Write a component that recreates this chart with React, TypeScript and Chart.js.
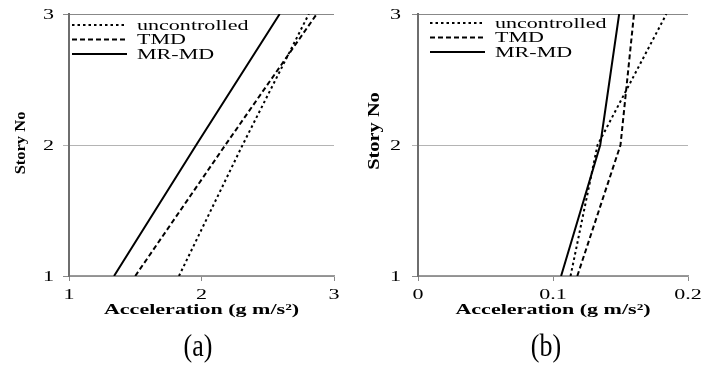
import React, { useEffect, useRef } from 'react';
import { Chart, registerables } from 'chart.js';

Chart.register(...registerables);

// ---------- data ----------
const storyLevels = [1, 2, 3];
const seriesLabels = ['uncontrolled', 'TMD', 'MR-MD'];

// panel (a)
const accelA_uncontrolled = [1.83, 2.31, 2.81];
const accelA_TMD = [1.5, 2.18, 2.87];
const accelA_MRMD = [1.34, 1.96, 2.59];

// panel (b)
const accelB_uncontrolled = [0.113, 0.133, 0.184];
const accelB_TMD = [0.118, 0.15, 0.16];
const accelB_MRMD = [0.106, 0.135, 0.149];

const xRangeA = [1, 3];
const xStepA = 1;
const xRangeB = [0, 0.2];
const xStepB = 0.1;
const yRange = [1, 3];
const yStep = 1;

const xAxisTitle = 'Acceleration (g m/s²)';
const yAxisTitle = 'Story No';
const panelLabels = ['(a)', '(b)'];

// ---------- styles ----------
const FONT = '"Liberation Serif", "Times New Roman", serif';
const SX = 1.47;
const dashes: number[][] = [[2.5, 3], [5, 3], []];

function drawText(
  ctx: CanvasRenderingContext2D,
  text: string,
  x: number,
  y: number,
  font: string,
  align: CanvasTextAlign,
  baseline: CanvasTextBaseline,
  sx: number,
  sy: number,
  rot = 0
) {
  ctx.save();
  ctx.translate(x, y);
  if (rot) ctx.rotate(rot);
  ctx.scale(sx, sy);
  ctx.font = font;
  ctx.textAlign = align;
  ctx.textBaseline = baseline;
  ctx.fillStyle = '#000';
  ctx.fillText(text, 0, 0);
  ctx.restore();
}

const annotate = {
  id: 'annotate',
  afterDraw(chart: any, _args: any, o: any) {
    const { ctx, chartArea: ca, scales } = chart;
    const xs = scales.x;
    const ys = scales.y;
    xs.ticks.forEach((t: any) =>
      drawText(ctx, String(t.label), xs.getPixelForValue(t.value), o.xTickBaseline, `15px ${FONT}`, 'center', 'alphabetic', SX, 1)
    );
    ys.ticks.forEach((t: any) =>
      drawText(ctx, String(t.label), ca.left - o.yTickGap, ys.getPixelForValue(t.value) + 1, `15px ${FONT}`, 'right', 'middle', SX, 1)
    );
    drawText(ctx, o.xTitle, (ca.left + ca.right) / 2, o.xTitleBaseline, `bold 15px ${FONT}`, 'center', 'alphabetic', SX, 1);
    drawText(ctx, o.yTitle, o.yTitleX, o.yTitleY, `bold 17px ${FONT}`, 'center', 'middle', o.yTitleStretch, o.yTitleThick, -Math.PI / 2);
    drawText(ctx, o.panel, o.panelX, o.panelY, `26px ${FONT}`, 'center', 'middle', 1, 1.22);

    chart.data.datasets.forEach((ds: any, i: number) => {
      const y = ca.top + o.legendTop + i * o.legendRow;
      const x0 = ca.left + o.legendLeft;
      ctx.save();
      ctx.strokeStyle = ds.borderColor;
      ctx.lineWidth = ds.borderWidth;
      ctx.setLineDash(ds.borderDash || []);
      ctx.beginPath();
      ctx.moveTo(x0, y);
      ctx.lineTo(x0 + 55, y);
      ctx.stroke();
      ctx.restore();
      drawText(ctx, ds.label, x0 + 65, y + 4.5, `15px ${FONT}`, 'left', 'alphabetic', SX, 1);
    });
  },
};

function makeConfig(p: any): any {
  return {
    type: 'line',
    data: {
      datasets: p.series.map((vals: number[], i: number) => ({
        label: seriesLabels[i],
        data: storyLevels.map((s, k) => ({ x: vals[k], y: s })),
        borderColor: '#000',
        borderWidth: 2,
        borderDash: dashes[i],
        pointRadius: 0,
        fill: false,
        tension: 0,
      })),
    },
    options: {
      responsive: false,
      maintainAspectRatio: false,
      animation: false,
      devicePixelRatio: 1,
      layout: { padding: { left: 0, right: p.padRight, top: 14, bottom: 0 } },
      plugins: {
        legend: { display: false },
        tooltip: { enabled: false },
        title: { display: false },
        annotate: {
          xTickBaseline: 298.5,
          yTickGap: p.yTickGap,
          xTitle: xAxisTitle,
          xTitleBaseline: 314,
          yTitle: yAxisTitle,
          yTitleX: p.yTitleX,
          yTitleY: p.yTitleY,
          yTitleStretch: p.yTitleStretch,
          yTitleThick: p.yTitleThick,
          panel: p.panel,
          panelX: p.panelX,
          panelY: 348,
          legendTop: p.legendTop,
          legendRow: 14.5,
          legendLeft: p.legendLeft,
        },
      },
      scales: {
        x: {
          type: 'linear',
          min: p.xRange[0],
          max: p.xRange[1],
          ticks: { stepSize: p.xStep, display: false },
          grid: { drawOnChartArea: false, drawTicks: true, tickLength: 5, color: '#888' },
          border: { display: true, color: '#999', width: 1.5 },
          afterFit: (s: any) => {
            s.height = 89;
          },
        },
        y: {
          type: 'linear',
          min: yRange[0],
          max: yRange[1],
          ticks: { stepSize: yStep, display: false },
          grid: {
            color: (c: any) => (c.tick && c.tick.value === 2 ? '#b4b4b4' : '#888'),
            lineWidth: 1,
            drawTicks: true,
            tickLength: 6,
          },
          border: { display: true, color: '#6e6e6e', width: 2 },
          afterFit: (s: any) => {
            s.width = p.yWidth;
          },
        },
      },
    },
    plugins: [annotate],
  };
}

const configA = makeConfig({
  series: [accelA_uncontrolled, accelA_TMD, accelA_MRMD],
  xRange: xRangeA,
  xStep: xStepA,
  padRight: 16,
  yWidth: 69,
  yTickGap: 15,
  yTitleX: 21,
  yTitleY: 143,
  yTitleStretch: 0.97,
  yTitleThick: 0.92,
  panel: panelLabels[0],
  panelX: 198,
  legendTop: 11,
  legendLeft: 3,
});

const configB = makeConfig({
  series: [accelB_uncontrolled, accelB_TMD, accelB_MRMD],
  xRange: xRangeB,
  xStep: xStepB,
  padRight: 15,
  yWidth: 68,
  yTickGap: 17,
  yTitleX: 25,
  yTitleY: 131,
  yTitleStretch: 1.2,
  yTitleThick: 0.98,
  panel: panelLabels[1],
  panelX: 196,
  legendTop: 9,
  legendLeft: 12,
});

function Panel({ cfg, left, width }: { cfg: any; left: number; width: number }) {
  const ref = useRef<HTMLCanvasElement>(null);
  useEffect(() => {
    const chart = new Chart(ref.current as HTMLCanvasElement, cfg);
    return () => chart.destroy();
  }, [cfg]);
  return (
    <canvas
      ref={ref}
      width={width}
      height={365}
      style={{ position: 'absolute', left, top: 0, width, height: 365 }}
    />
  );
}

export default function App() {
  return (
    <div style={{ position: 'absolute', left: 0, top: 0, width: 703, height: 365, background: '#fff', overflow: 'hidden' }}>
      <Panel cfg={configA} left={0} width={350} />
      <Panel cfg={configB} left={350} width={353} />
    </div>
  );
}
